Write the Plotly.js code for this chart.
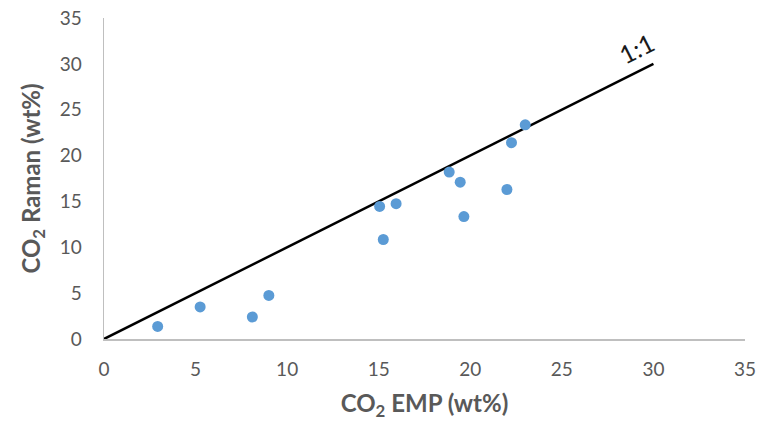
<!DOCTYPE html>
<html>
<head>
<meta charset="utf-8">
<script src="https://cdn.plot.ly/plotly-3.0.1.min.js"></script>
<style>html,body{margin:0;padding:0;background:#fff;}</style>
</head>
<body>
<div id="chart" style="width:779px;height:439px;"></div>
<script>
const empCO2 = [2.93, 5.25, 8.1, 9.0, 15.05, 15.25, 15.95, 18.85, 19.45, 19.65, 22.0, 22.25, 23.0];
const ramanCO2 = [1.37, 3.5, 2.4, 4.75, 14.45, 10.85, 14.75, 18.2, 17.1, 13.35, 16.3, 21.4, 23.35];
const lineX = [0, 30];
const lineY = [0, 30];
const tickVals = [0, 5, 10, 15, 20, 25, 30, 35];

const font = "Lato, 'Open Sans', sans-serif";
const data = [
  {x: lineX, y: lineY, type: 'scatter', mode: 'lines', line: {color: '#000000', width: 2.5}, hoverinfo: 'skip'},
  {x: empCO2, y: ramanCO2, type: 'scatter', mode: 'markers', marker: {color: '#5B9BD5', size: 11}}
];
const layout = {
  width: 779, height: 439,
  margin: {l: 104, r: 34, t: 18, b: 100},
  showlegend: false,
  paper_bgcolor: '#ffffff', plot_bgcolor: '#ffffff',
  font: {family: font, color: '#595959', size: 19},
  xaxis: {
    range: [0, 35], tickvals: tickVals, showgrid: false, zeroline: false,
    showline: true, linecolor: '#BFBFBF', linewidth: 1.5, ticks: '', ticklen: 0,
    ticklabelstandoff: 13,
    tickfont: {size: 19, color: '#595959', family: font},
    title: {text: '<b>CO<sub>2</sub> EMP (wt%)</b>', font: {size: 24, color: '#595959', family: font}, standoff: 16}
  },
  yaxis: {
    range: [0, 35], tickvals: tickVals, showgrid: false, zeroline: false,
    showline: true, linecolor: '#BFBFBF', linewidth: 1.5, ticks: '', ticklen: 0,
    ticklabelstandoff: 17,
    tickfont: {size: 19, color: '#595959', family: font},
    title: {text: '<b>CO<sub>2</sub> Raman (wt%)</b>', font: {size: 24, color: '#595959', family: font}, standoff: 12}
  },
  annotations: [{
    x: 29.1, y: 31.7, xref: 'x', yref: 'y', text: '1:1', showarrow: false,
    textangle: -27, font: {size: 25, color: '#1a1a1a', family: font}
  }]
};
Plotly.newPlot('chart', data, layout, {displayModeBar: false, staticPlot: true});
</script>
</body>
</html>
